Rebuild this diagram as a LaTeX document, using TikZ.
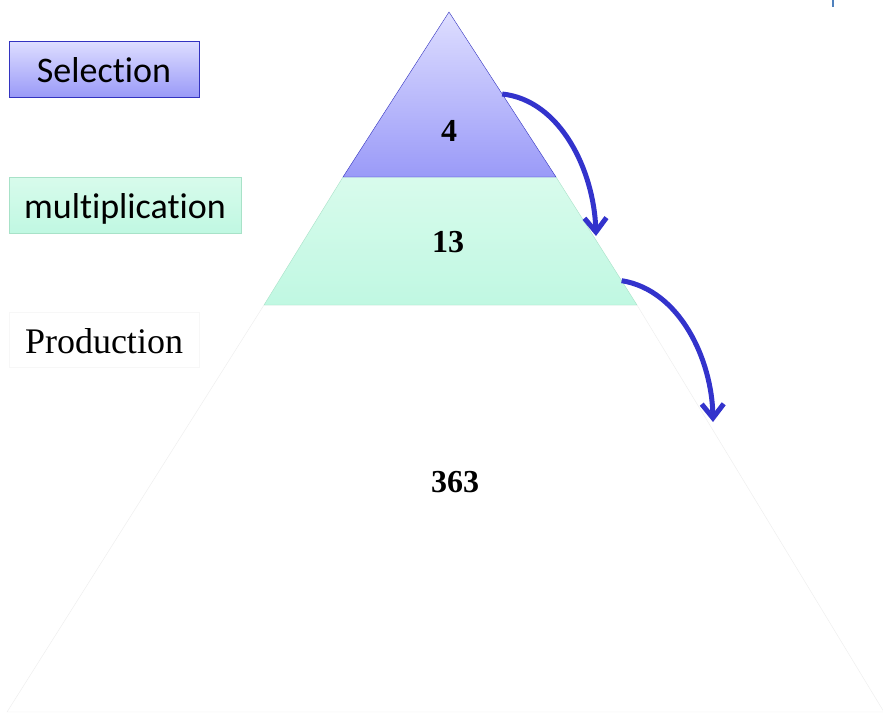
\documentclass[tikz,border=0pt]{standalone}
\usepackage{fontspec}
\setmainfont{Liberation Serif}
\newfontfamily\calibri[Ligatures=NoCommon]{Carlito}
\usetikzlibrary{arrows.meta,calc}
\definecolor{selblue}{HTML}{3333C0}
\definecolor{seltop}{HTML}{DEDEFF}
\definecolor{selbot}{HTML}{9A9AF8}
\definecolor{multop}{HTML}{D8FBEC}
\definecolor{mulbot}{HTML}{C0F8E2}
\definecolor{mulline}{HTML}{A8E2C8}
\definecolor{arrblue}{HTML}{3333CC}
\definecolor{markblue}{HTML}{4F81BD}
\tikzset{
	levelbox/.style={minimum height=56pt, inner sep=0pt, text height=29pt, text depth=3pt, font=\fontsize{36}{40}\selectfont},
	count/.style={anchor=base, font=\fontsize{32}{36}\selectfont\bfseries},
	flow/.style={-{Straight Barb[length=14pt,width=22pt]}, draw=arrblue, line width=5pt}
}

\begin{document}
\begin{tikzpicture}[x=1pt,y=-1pt]
	\useasboundingbox (0,0) rectangle (883,712);
	\fill[white] (0,0) rectangle (883,712);
	\draw[line width=2pt, markblue] (833,0) -- (833,7);
	
	\coordinate (apex) at (449,12);
	\coordinate (tl) at (343,177);
	\coordinate (tr) at (556,177);
	\coordinate (ml) at (264,305);
	\coordinate (mr) at (637,305);
	\coordinate (bl) at (7,712);
	\coordinate (br) at (884,712);
	
	% pyramid levels
	\filldraw[fill=white, draw=black!7] (ml) -- (mr) -- (br) -- (bl) -- cycle;
	\shade[top color=multop, bottom color=mulbot] (tl) -- (tr) -- (mr) -- (ml) -- cycle;
	\draw[mulline] (tr) -- (mr) -- (ml) -- (tl);
	\shade[top color=seltop, bottom color=selbot] (apex) -- (tr) -- (tl) -- cycle;
	\draw[selblue] (apex) -- (tr) -- (tl) -- cycle;
	
	\node[count] (n4) at (449,141) {4};
	\node[count] (n13) at (448,252) {13};
	\node[count] (n363) at (455,492) {363};
	
	\node[levelbox, minimum width=190pt, draw=selblue, top color=seltop, bottom color=selbot, font=\fontsize{36}{40}\calibri] (Sel) at (104,69) {Selection};
	\node[levelbox, minimum width=232pt, draw=mulline, top color=multop, bottom color=mulbot, font=\fontsize{36}{40}\calibri] (Mult) at (125,205) {multiplication};
	\node[levelbox, minimum width=190pt, minimum height=55pt, draw=black!3, fill=white] (Prod) at (104,340) {Production};
	
	\coordinate (s1) at ($(apex)!0.497!(tr)$);
	\coordinate (e1) at (596,236);
	\coordinate (s2) at ($(tr)!0.81!(mr)$);
	\coordinate (e2) at (713,422);
	\draw[flow] (s1) .. controls (560,100) and (594,170) .. (e1);
	\draw[flow] (s2) .. controls (680,290) and (712,360) .. (e2);
\end{tikzpicture}
\end{document}
